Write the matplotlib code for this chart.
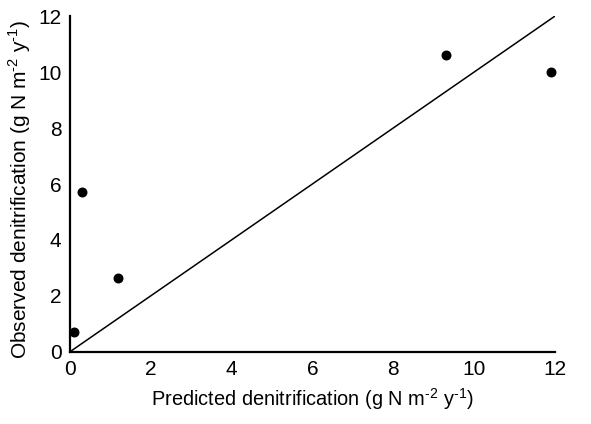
import matplotlib
matplotlib.use('Agg')
import matplotlib.pyplot as plt

plt.rcParams['font.family'] = ['Liberation Sans', 'DejaVu Sans']
plt.rcParams['mathtext.fontset'] = 'custom'
plt.rcParams['mathtext.rm'] = 'Liberation Sans'

# observed vs predicted denitrification
predicted = [0.1, 0.3, 1.2, 9.3, 11.9]
observed = [0.7, 5.7, 2.65, 10.6, 10.0]
one_to_one = [0, 12]
ticks = [0, 2, 4, 6, 8, 10, 12]

fig = plt.figure(figsize=(5.91, 4.24), dpi=100)
ax = fig.add_axes([0.118, 0.170, 0.821, 0.792])

ax.plot(one_to_one, one_to_one, color='black', linewidth=1.1)
ax.scatter(predicted, observed, s=38, color='black', zorder=3, clip_on=False)

ax.set_xlim(0, 12)
ax.set_ylim(0, 12)
ax.set_xticks(ticks)
ax.set_yticks(ticks)
ax.tick_params(length=0, labelsize=15)
ax.tick_params(axis='x', pad=6)
ax.tick_params(axis='y', pad=6)

for side in ['top', 'right']:
    ax.spines[side].set_visible(False)
for side in ['left', 'bottom']:
    ax.spines[side].set_linewidth(1.6)

unit = r'(g N m$^{\text{-}2}$ y$^{\text{-}1}$)'
ax.set_xlabel('Predicted denitrification ' + unit, fontsize=14.4, labelpad=5)
ax.set_ylabel('Observed denitrification ' + unit, fontsize=15)
ax.yaxis.set_label_coords(-0.076, 0.485)

plt.savefig('out.png', dpi=100)
plt.close()
